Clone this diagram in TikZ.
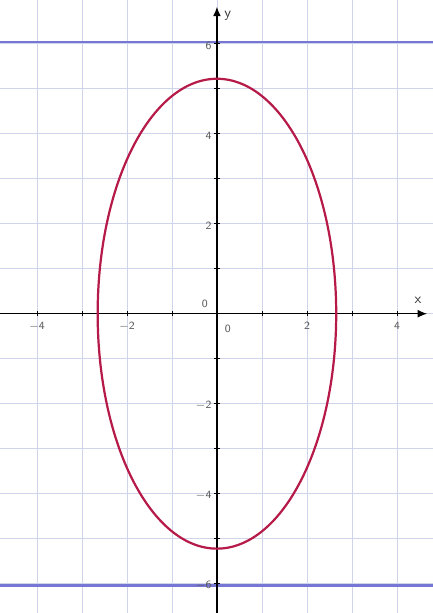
\documentclass[tikz,border=0pt]{standalone}
\usepackage{amsmath}
\usepackage{tikz}
\usetikzlibrary{arrows.meta}
\definecolor{gridblue}{RGB}{208,212,234}
\definecolor{curvered}{RGB}{182,26,72}
\definecolor{dirblue}{RGB}{118,118,212}

\begin{document}
\begin{tikzpicture}[
        ticklabel/.style={font=\sffamily\scriptsize, text=black!65, inner sep=1pt},
        axislabel/.style={font=\sffamily\small, text=black!80, inner sep=1pt},
        directrix/.style={dirblue, line width=1.5pt},
    ]
        \useasboundingbox (-4.82,-6.65) rectangle (4.80,6.97);

        \draw[gridblue, line width=0.5pt] (-4.82,-6.65) grid (4.80,6.97);

        \draw[directrix] (-4.82,6.04) -- (4.80,6.04);
        \draw[directrix] (-4.82,-6.04) -- (4.80,-6.04);

        \draw[-{Latex[length=6pt,width=5pt]}, line width=0.8pt] (-4.82,0) -- (4.67,0);
        \draw[-{Latex[length=6pt,width=5pt]}, line width=0.8pt] (0,-6.65) -- (0,6.82);
        \node[axislabel] (xlabel) at (4.47,0.3) {x};
        \node[axislabel] (ylabel) at (0.24,6.62) {y};

        \foreach \x in {-4,...,4}
            \draw[line width=0.5pt] (\x,-0.06) -- (\x,0.06);
        \foreach \y in {-6,...,6}
            \draw[line width=0.5pt] (-0.06,\y) -- (0.06,\y);

        \foreach \x in {-4,-2,2,4}
            \node[ticklabel, anchor=north] (xtick\x) at (\x,-0.14) {$\mathsf{\x}$};
        \foreach \y in {-6,-4,-2,2,4,6}
            \node[ticklabel, anchor=east] (ytick\y) at (-0.08,\y-0.04) {$\mathsf{\y}$};
        \node[ticklabel] (origin) at (-0.27,0.22) {0};
        \node[ticklabel] (zero) at (0.24,-0.33) {0};

        \draw[curvered, line width=1.4pt] (0,0) circle[x radius=2.65, y radius=5.22];
    \end{tikzpicture}
\end{document}
